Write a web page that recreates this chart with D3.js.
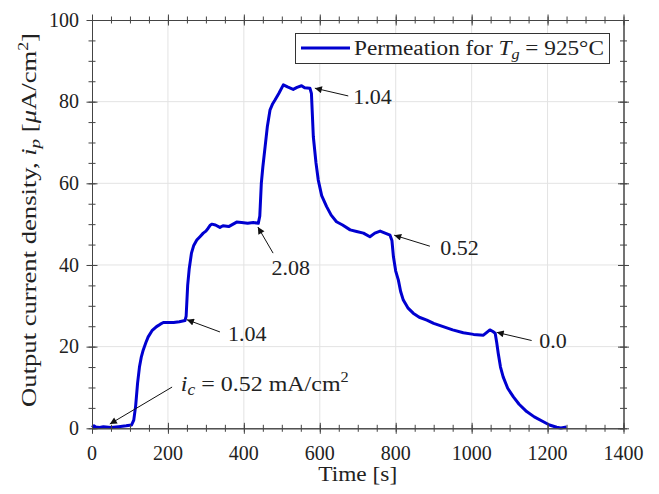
<!DOCTYPE html>
<html><head><meta charset="utf-8">
<script src="https://cdn.jsdelivr.net/npm/d3@7"></script>
<style>body{margin:0;background:#fff}text{font-family:"Liberation Serif",serif;fill:#222}</style>
</head><body>
<script>
// ---- data ----
const timeS = [0,5,10,20,30,50,70,90,104,110,115,120,125,130,135,142,148,158,170,180,188,200,215,230,245,248,252,256,262,268,276,285,293,300,306,312,316,325,337,345,360,381,394,410,425,438,442,446,450,456,462,469,476,482,492,504,515,530,540,552,560,574,578,583,590,596,605,618,630,644,660,680,697,715,732,745,759,772,785,790,794,800,807,813,820,832,846,862,882,900,925,950,978,1005,1031,1040,1048,1056,1062,1066,1070,1076,1083,1095,1110,1125,1145,1165,1189,1205,1224,1235,1250];
const currentDensity = [0.2,0.6,0.3,0.2,0.4,0.2,0.4,0.6,0.8,2.0,5.5,11,15,17.5,19.2,21,22.4,23.9,24.9,25.5,25.9,25.9,25.9,26.1,26.4,27.5,35,39,42.9,44.8,46.1,47,47.8,48.3,49,49.8,50,49.8,49.2,49.6,49.4,50.5,50.4,50.2,50.4,50.2,52,60,64,69,74,78,79.5,80.4,82,84.1,83.6,83,83.5,83.9,83.4,83.3,82,71.4,65,60.8,57,54.3,52.2,50.6,49.8,48.6,48.2,47.8,46.9,47.8,48.3,47.8,47.3,46,42,38.5,36.3,33.5,31.4,29.5,28.2,27.2,26.5,25.7,24.9,24.1,23.4,23.0,22.8,23.5,24.1,23.7,23.3,21,18.4,15,12.6,9.8,7.7,5.9,4.1,2.8,1.6,0.8,0.25,0.1,0.3];
const xTicks = [0,200,400,600,800,1000,1200,1400];
const yTicks = [0,20,40,60,80,100];
// annotations: arrow head, tail and label position in data units
const annLabels = ["ic","1.04","2.08","1.04","0.52","0.0"];
const annHead = [[47,1.05],[250,26.6],[437,49.3],[587,83.3],[796,47.3],[1066,23.5]];
const annTail = [[211,10.1],[337,23.6],[477,42.9],[675,81.4],[890,44.6],[1158,21.5]];
const annText = [[234,9.1],[358,21.5],[473,37.5],[688,79.4],[917,42.4],[1178,19.6]];

const W=659,H=494;
const m={l:92,r:659-623.5,t:20,b:494-428.3};
const svg=d3.select("body").append("svg").attr("width",W).attr("height",H);
const x=d3.scaleLinear().domain([0,1400]).range([m.l,W-m.r]);
const y=d3.scaleLinear().domain([0,100]).range([H-m.b,m.t]);
const axisCol="#444";

// stretch a text (placed at origin) horizontally to a target width
function fit(sel, tx, ty, target, rot){
  const w=sel.node().getBBox().width;
  const s=target/w;
  sel.attr("transform",`translate(${tx},${ty})${rot?` rotate(${rot})`:""} scale(${s},1)`);
}

// grid
const g=svg.append("g");
g.selectAll("line.gx").data(xTicks.slice(1,-1)).join("line")
 .attr("x1",d=>x(d)).attr("x2",d=>x(d)).attr("y1",y(0)).attr("y2",y(100))
 .attr("stroke","#e3e3e3").attr("stroke-width",1);
g.selectAll("line.gy").data(yTicks.slice(1,-1)).join("line")
 .attr("y1",d=>y(d)).attr("y2",d=>y(d)).attr("x1",x(0)).attr("x2",x(1400))
 .attr("stroke","#e3e3e3").attr("stroke-width",1);

// curve
svg.append("path").datum(timeS.map((t,i)=>[t,currentDensity[i]]))
 .attr("d",d3.line().x(d=>x(d[0])).y(d=>y(d[1])))
 .attr("fill","none").attr("stroke","#0000d0").attr("stroke-width",3).attr("stroke-linejoin","round");

// axes box with crossing ticks
const xMinor=d3.range(0,1401,50), yMinor=d3.range(0,101,5);
function drawAxis(transform, axisFn, scale, vals, size){
  const ga=svg.append("g").attr("transform",transform).call(axisFn(scale).tickValues(vals).tickSizeInner(size).tickSizeOuter(0).tickFormat(""));
  ga.select(".domain").attr("stroke",axisCol);
  ga.selectAll(".tick line").attr("stroke",axisCol).each(function(){
    const l=d3.select(this);
    if(l.attr("x2")!==null && +l.attr("x2")!==0){ const v=+l.attr("x2"); l.attr("x1",-v); }
    if(l.attr("y2")!==null && +l.attr("y2")!==0){ const v=+l.attr("y2"); l.attr("y1",-v); }
  });
}
[[`translate(0,${y(0)})`,d3.axisBottom,x],[`translate(0,${y(100)})`,d3.axisTop,x]].forEach(([tr,fn,sc])=>{
  drawAxis(tr,fn,sc,xMinor,3.5); drawAxis(tr,fn,sc,xTicks,5.5);
});
[[`translate(${x(0)},0)`,d3.axisLeft,y],[`translate(${x(1400)},0)`,d3.axisRight,y]].forEach(([tr,fn,sc])=>{
  drawAxis(tr,fn,sc,yMinor,3.5); drawAxis(tr,fn,sc,yTicks,5.5);
});

// tick labels
svg.selectAll("text.xt").data(xTicks).join("text").attr("class","xt")
 .attr("x",d=>x(d)).attr("y",460).attr("text-anchor","middle").attr("font-size",20).text(d=>d);
svg.selectAll("text.yt").data(yTicks).join("text").attr("class","yt")
 .attr("x",79).attr("y",d=>y(d)).attr("dy","0.34em").attr("text-anchor","end").attr("font-size",20).text(d=>d);

// axis titles
const xl=svg.append("text").attr("text-anchor","middle").attr("font-size",21).text("Time [s]");
fit(xl,(x(0)+x(1400))/2,481,79);
const yl=svg.append("text").attr("text-anchor","middle").attr("font-size",21);
yl.append("tspan").text("Output current density, ");
yl.append("tspan").attr("font-style","italic").text("i");
yl.append("tspan").attr("font-style","italic").attr("font-size",15).attr("dy",4).text("p");
yl.append("tspan").attr("dy",-4).text(" [");
yl.append("tspan").attr("font-style","italic").text("μ");
yl.append("tspan").text("A/cm");
yl.append("tspan").attr("font-size",14).attr("dy",-8).text("2");
yl.append("tspan").attr("dy",8).text("]");
fit(yl,36,220,374,-90);

// annotations
svg.append("defs").append("marker").attr("id","ah").attr("viewBox","0 0 10 10").attr("refX",10).attr("refY",5)
 .attr("markerWidth",9).attr("markerHeight",7).attr("markerUnits","userSpaceOnUse").attr("orient","auto")
 .append("path").attr("d","M0,0 L10,5 L0,10 z").attr("fill","#111");
annLabels.forEach((lab,i)=>{
  svg.append("line").attr("x1",x(annTail[i][0])).attr("y1",y(annTail[i][1]))
   .attr("x2",x(annHead[i][0])).attr("y2",y(annHead[i][1]))
   .attr("stroke","#111").attr("stroke-width",1).attr("marker-end","url(#ah)");
  const t=svg.append("text").attr("font-size",22);
  if(lab==="ic"){
    t.append("tspan").attr("font-style","italic").text("i");
    t.append("tspan").attr("font-style","italic").attr("font-size",16).attr("dy",4).text("c");
    t.append("tspan").attr("dy",-4).text(" = 0.52 mA/cm");
    t.append("tspan").attr("font-size",15).attr("dy",-9).text("2");
    fit(t,x(annText[i][0]),y(annText[i][1]),168);
  } else {
    t.attr("transform",`translate(${x(annText[i][0])},${y(annText[i][1])})`).text(lab);
  }
});

// legend
const lg=svg.append("g");
lg.append("rect").attr("x",295.5).attr("y",33.5).attr("width",314).attr("height",30).attr("fill","#fff").attr("stroke","#333").attr("stroke-width",1);
lg.append("line").attr("x1",301).attr("x2",350).attr("y1",48).attr("y2",48).attr("stroke","#0000d0").attr("stroke-width",3);
const lt=lg.append("text").attr("font-size",20);
lt.append("tspan").text("Permeation for ");
lt.append("tspan").attr("font-style","italic").text("T");
lt.append("tspan").attr("font-style","italic").attr("font-size",14).attr("dy",4).text("g");
lt.append("tspan").attr("dy",-4).text(" = 925°C");
fit(lt,354,54.5,250);
</script>
</body></html>
